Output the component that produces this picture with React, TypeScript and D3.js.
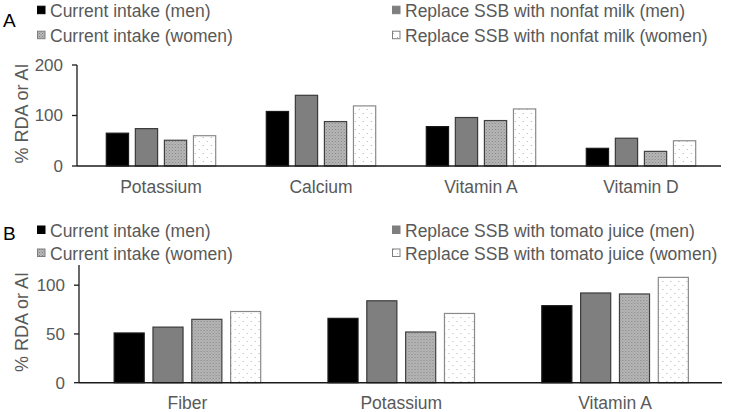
import React from "react";
import * as d3 from "d3";

const seriesKeys = ["currentMen", "replaceMen", "currentWomen", "replaceWomen"];

const categoriesA = ["Potassium", "Calcium", "Vitamin A", "Vitamin D"];
const currentMenA = [65, 108, 78, 35];
const replaceMenA = [74, 140, 96, 55];
const currentWomenA = [51, 88, 90, 29];
const replaceWomenA = [60, 119, 113, 50];
const ticksA = [0, 100, 200];
const legendA = [
  "Current intake (men)",
  "Replace SSB with nonfat milk (men)",
  "Current intake (women)",
  "Replace SSB with nonfat milk (women)",
];

const categoriesB = ["Fiber", "Potassium", "Vitamin A"];
const currentMenB = [51, 66, 79];
const replaceMenB = [57, 84, 92];
const currentWomenB = [65, 52, 91];
const replaceWomenB = [73, 71, 108];
const ticksB = [0, 50, 100];
const legendB = [
  "Current intake (men)",
  "Replace SSB with tomato juice (men)",
  "Current intake (women)",
  "Replace SSB with tomato juice (women)",
];

const yTitle = "% RDA or AI";
const FONT = "'Liberation Sans', Arial, sans-serif";
const TEXT = "#595959";

const fills: Record<string, string> = {
  currentMen: "#000000",
  replaceMen: "#7f7f7f",
  currentWomen: "url(#patWomen)",
  replaceWomen: "url(#patDots)",
};
const strokes: Record<string, string> = {
  currentMen: "#1a1a1a",
  replaceMen: "#3a3a3a",
  currentWomen: "#404040",
  replaceWomen: "#8a8a8a",
};

type PanelProps = {
  letter: string;
  letterY: number;
  categories: string[];
  values: number[][];
  ticks: number[];
  yMax: number;
  legend: string[];
  top: number;
  rowGap: number;
  plotTop: number;
  plotBottom: number;
  axisX: number;
  xStart: number;
  xEnd: number;
  catBaseline: number;
  titleY: number;
};

function Panel(p: PanelProps) {
  const y = d3.scaleLinear().domain([0, p.yMax]).range([p.plotBottom, p.plotTop]);
  const x0 = d3
    .scaleBand<string>()
    .domain(p.categories)
    .range([p.xStart, p.xEnd])
    .paddingInner(0.31)
    .paddingOuter(0.155);
  const x1 = d3
    .scaleBand<string>()
    .domain(seriesKeys)
    .range([0, x0.bandwidth()])
    .paddingInner(0.2);

  const legendPos = [
    { sx: 37, row: 0 },
    { sx: 392, row: 0 },
    { sx: 37, row: 1 },
    { sx: 392, row: 1 },
  ];

  return (
    <g>
      <text x={3} y={p.letterY} fontSize={19} fill="#000" fontFamily={FONT}>
        {p.letter}
      </text>
      {p.legend.map((lab, i) => {
        const lp = legendPos[i];
        const base = p.top + lp.row * p.rowGap;
        const k = seriesKeys[i === 1 ? 1 : i === 2 ? 2 : i];
        return (
          <g key={lab}>
            <rect
              x={lp.sx + 0.5}
              y={base - 10.5}
              width={7.5}
              height={7.5}
              fill={fills[k]}
              stroke={k === "currentMen" ? "#000" : "#7f7f7f"}
              strokeWidth={1}
            />
            <text x={lp.sx + 13} y={base} fontSize={17.5} fill={TEXT} fontFamily={FONT}>
              {lab}
            </text>
          </g>
        );
      })}

      {p.categories.map((c, ci) => (
        <g key={c} transform={`translate(${x0(c)},0)`}>
          {seriesKeys.map((k, si) => {
            const v = p.values[si][ci];
            return (
              <rect
                key={k}
                x={(x1(k) as number) + 0.5}
                y={y(v)}
                width={x1.bandwidth() - 1}
                height={y(0) - y(v)}
                fill={fills[k]}
                stroke={strokes[k]}
                strokeWidth={1.2}
              />
            );
          })}
        </g>
      ))}

      <line x1={p.axisX} x2={p.axisX} y1={p.plotTop} y2={p.plotBottom} stroke="#1a1a1a" strokeWidth={1.3} />
      {p.ticks.map((t) => (
        <g key={t}>
          <line x1={p.axisX - 5} x2={p.axisX} y1={y(t)} y2={y(t)} stroke="#1a1a1a" strokeWidth={1.3} />
          <text
            x={p.axisX - 14}
            y={y(t)}
            dy="0.35em"
            textAnchor="end"
            fontSize={17}
            fill={TEXT}
            fontFamily={FONT}
          >
            {t}
          </text>
        </g>
      ))}
      <line x1={p.axisX} x2={p.xEnd} y1={p.plotBottom} y2={p.plotBottom} stroke="#1a1a1a" strokeWidth={1.5} />
      {p.categories.map((c) => (
        <text
          key={c}
          x={(x0(c) as number) + x0.bandwidth() / 2}
          y={p.catBaseline}
          textAnchor="middle"
          fontSize={17.5}
          fill={TEXT}
          fontFamily={FONT}
        >
          {c}
        </text>
      ))}
      <text
        transform={`translate(28,${p.titleY}) rotate(-90)`}
        textAnchor="middle"
        fontSize={18}
        fill={TEXT}
        fontFamily={FONT}
      >
        {yTitle}
      </text>
    </g>
  );
}

export default function App() {
  return (
    <svg
      width={732}
      height={412}
      style={{ position: "absolute", left: 0, top: 0, background: "#fff" }}
    >
      <defs>
        <pattern id="patWomen" patternUnits="userSpaceOnUse" width={3} height={3}>
          <rect width={3} height={3} fill="#b8b8b8" />
          <rect x={0} y={0} width={1} height={1} fill="#808080" />
          <rect x={1.5} y={1.5} width={1} height={1} fill="#8c8c8c" />
        </pattern>
        <pattern id="patDots" patternUnits="userSpaceOnUse" width={8} height={8}>
          <rect width={8} height={8} fill="#ffffff" />
          <rect x={1} y={1} width={1} height={1} fill="#b0b0b0" />
          <rect x={5} y={5} width={1} height={1} fill="#b0b0b0" />
        </pattern>
      </defs>
      <rect width={732} height={412} fill="#fff" />
      <Panel
        letter="A"
        letterY={26.7}
        categories={categoriesA}
        values={[currentMenA, replaceMenA, currentWomenA, replaceWomenA]}
        ticks={ticksA}
        yMax={200}
        legend={legendA}
        top={16.7}
        rowGap={25}
        plotTop={65}
        plotBottom={166}
        axisX={77}
        xStart={81}
        xEnd={721}
        catBaseline={193.3}
        titleY={113.5}
      />
      <Panel
        letter="B"
        letterY={240}
        categories={categoriesB}
        values={[currentMenB, replaceMenB, currentWomenB, replaceWomenB]}
        ticks={ticksB}
        yMax={120.7}
        legend={legendB}
        top={236.5}
        rowGap={23}
        plotTop={265}
        plotBottom={382.7}
        axisX={79}
        xStart={80.5}
        xEnd={722}
        catBaseline={408.5}
        titleY={322}
      />
    </svg>
  );
}
